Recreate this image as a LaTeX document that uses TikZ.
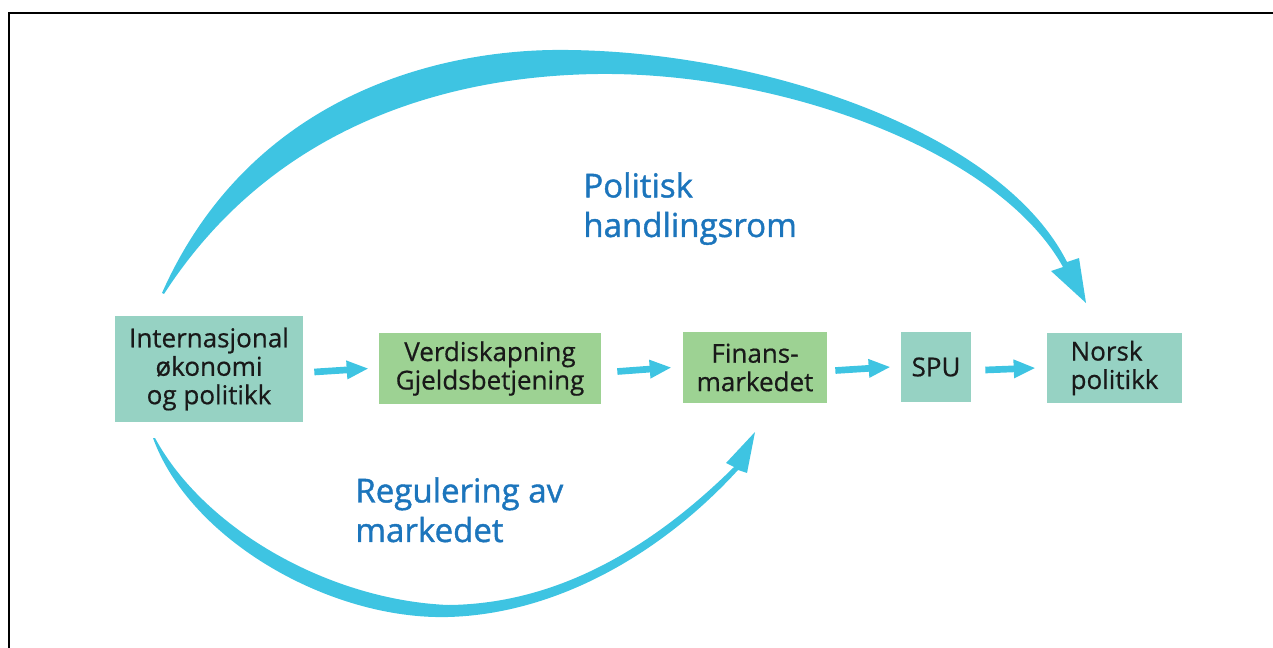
\documentclass[tikz,border=0pt]{standalone}
\usepackage{fontspec}
\setmainfont{Open Sans}
\usetikzlibrary{arrows.meta}

\begin{document}
\begin{tikzpicture}[x=0.02cm,y=-0.02cm,>=Triangle,
  box/.style={inner sep=0pt,align=center,text=black!90,
    font=\fontsize{14.8}{16.2}\selectfont\addfontfeature{FakeBold=0.6}},
  tealbox/.style={box,fill=cTeal},
  greenbox/.style={box,fill=cGreen},
  flow/.style={draw=cCyan,line width=3.8pt,-{Triangle[length=12.5pt,width=9.8pt]}},
  swoosh/.style={fill=cCyan},
  lbl/.style={anchor=north west,inner sep=0pt,align=left,text=cBlue,
    font=\fontsize{18.8}{22.5}\selectfont\addfontfeature{FakeBold=1.2}}]

% colors
\definecolor{cTeal}{HTML}{96D2C3}
\definecolor{cGreen}{HTML}{9DD293}
\definecolor{cCyan}{HTML}{3EC4E2}
\definecolor{cBlue}{HTML}{1C75BC}

\useasboundingbox (0,0) rectangle (1273,648);

% frame
\draw[line width=1.15pt] (9.3,648) -- (9.3,12.7) -- (1273,12.7);

% boxes
\node[tealbox,minimum width=3.76cm,minimum height=2.12cm] (intl) at (209,369)
  {Internasjonal\\økonomi\\og politikk};
\node[greenbox,minimum width=4.44cm,minimum height=1.42cm] (verdi) at (490,368.5)
  {Verdiskapning\\Gjeldsbetjening};
\node[greenbox,minimum width=2.88cm,minimum height=1.42cm] (finans) at (755,367.5)
  {Finans-\\markedet};
\node[tealbox,minimum width=1.4cm,minimum height=1.4cm] (spu) at (936,367)
  {SPU};
\node[tealbox,minimum width=2.7cm,minimum height=1.4cm,align=left] (norsk) at (1114.5,368)
  {Norsk\\politikk};

% arrows along the chain
\draw[flow] ([shift={(11,3)}]intl.east) -- ([shift={(-10,0)}]verdi.west);
\draw[flow] ([shift={(16,3)}]verdi.east) -- ([shift={(-11,0)}]finans.west);
\draw[flow] ([shift={(8,3)}]finans.east) -- ([shift={(-10,0)}]spu.west);
\draw[flow] ([shift={(14,3)}]spu.east) -- ([shift={(-11,0)}]norsk.west);

% upper swoosh
\fill[swoosh] (162,293) .. controls (250,95) and (440,48) .. (568,50)
  .. controls (760,52) and (1000,130) .. (1067,262)
  -- (1079,258) -- (1086,303) -- (1051,271) -- (1063,267)
  .. controls (998,150) and (780,72) .. (598,74)
  .. controls (440,76) and (270,130) .. (164,294) -- cycle;

% lower swoosh
\fill[swoosh] (153,438) .. controls (190,540) and (330,620) .. (448,617)
  .. controls (560,614) and (665,550) .. (738,470)
  -- (747,473) -- (755,432) -- (726,463) -- (734,467)
  .. controls (655,545) and (560,604) .. (448,605)
  .. controls (330,600) and (205,530) .. (155,438) -- cycle;

% labels
\node[lbl] (upper) at (583,172) {Politisk\\handlingsrom};
\node[lbl] (lower) at (355,477) {Regulering av\\markedet};

\end{tikzpicture}
\end{document}
